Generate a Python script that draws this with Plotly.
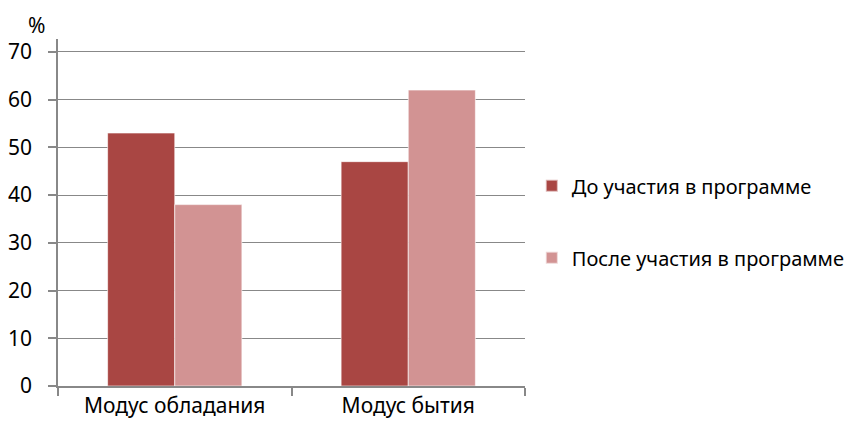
import plotly.graph_objects as go

categories = ["Модус обладания", "Модус бытия"]
series_names = ["До участия в программе", "После участия в программе"]
before = [53, 47]
after = [38, 62]
colors = ["#A94643", "#D29393"]

fig = go.Figure()
for name, vals, col in zip(series_names, [before, after], colors):
    fig.add_trace(go.Bar(
        x=categories, y=vals, name=name,
        marker=dict(color=col, line=dict(color="rgba(255,255,255,0.6)", width=1)),
        legendgroup=name,
    ))

fig.update_layout(
    width=851, height=421,
    barmode="group", bargap=0.425, bargroupgap=0,
    plot_bgcolor="white", paper_bgcolor="white",
    font=dict(family="Noto Sans", size=21, color="#000000"),
    margin=dict(l=50, r=334, t=31, b=43, autoexpand=False),
    showlegend=True,
    legend=dict(x=1.0146, y=0.473, xanchor="left", yanchor="middle",
                font=dict(size=20), tracegroupgap=43, itemsizing="constant"),
    xaxis=dict(showline=True, linecolor="#888888", linewidth=1.5, automargin=False,
               ticks="outside", tickson="boundaries", ticklen=8, tickcolor="#888888", tickwidth=1.5,
               showgrid=False, tickfont=dict(size=21)),
    yaxis=dict(range=[0, 72.7], dtick=10, tick0=0, showline=True, linecolor="#888888", linewidth=1.5,
               automargin=False, ticklabelstandoff=12,
               ticks="outside", ticklen=8, tickcolor="#888888", tickwidth=1.5,
               showgrid=True, gridcolor="#888888", gridwidth=1.2, zeroline=False,
               tickfont=dict(size=21)),
    annotations=[dict(text="%", xref="paper", yref="paper", x=-0.045, y=1.04, xanchor="center",
                      yanchor="middle", showarrow=False, font=dict(size=21))],
)

fig.write_html("out.html")
